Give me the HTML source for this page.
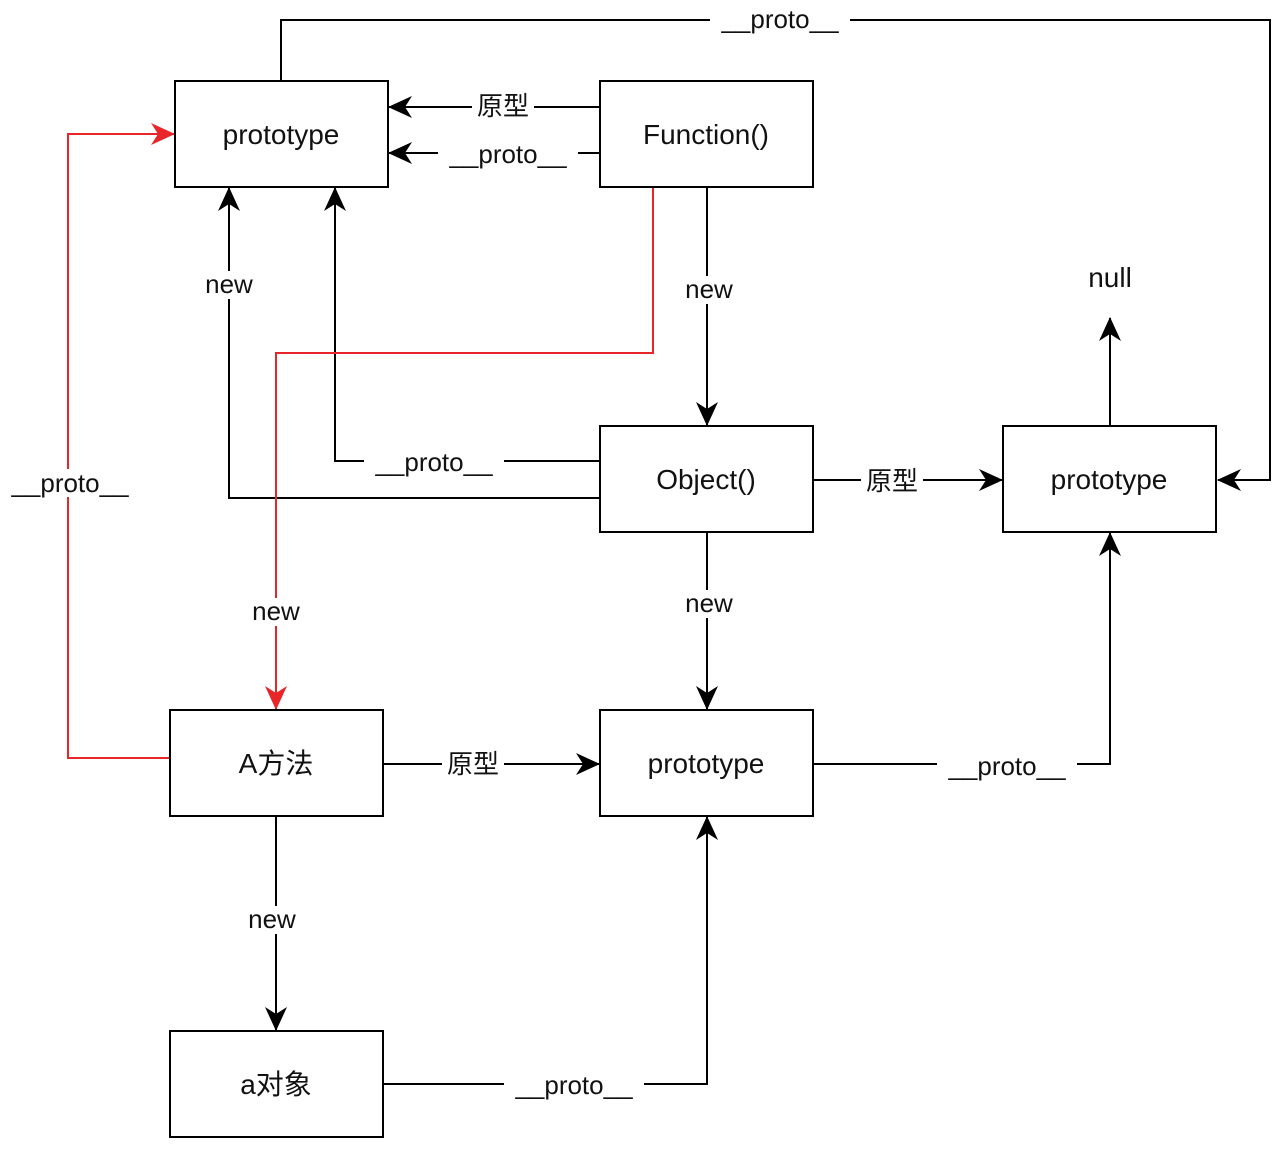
<!DOCTYPE html>
<html><head><meta charset="utf-8"><style>
html,body{margin:0;padding:0;background:#fff;}
svg{display:block;}
text{font-family:"Liberation Sans","Noto Sans CJK SC",sans-serif;fill:#111;}
</style></head><body>
<svg width="1280" height="1150" viewBox="0 0 1280 1150" xmlns="http://www.w3.org/2000/svg">
<defs>
<marker id="ab" markerWidth="24" markerHeight="22" refX="23" refY="11" orient="auto" markerUnits="userSpaceOnUse"><path d="M0,0 L24,11 L0,22 L7,11 z" fill="#000"/></marker>
<marker id="ar" markerWidth="24" markerHeight="22" refX="23" refY="11" orient="auto" markerUnits="userSpaceOnUse"><path d="M0,0 L24,11 L0,22 L7,11 z" fill="#e8262a"/></marker>
</defs>
<g fill="none" stroke="#000" stroke-width="2">
<polyline points="281,81 281,20 1270,20 1270,480 1218,480" marker-end="url(#ab)"/>
<line x1="600" y1="107" x2="389" y2="107" marker-end="url(#ab)"/>
<line x1="600" y1="153" x2="389" y2="153" marker-end="url(#ab)"/>
<line x1="707" y1="187" x2="707" y2="425" marker-end="url(#ab)"/>
<polyline points="600,498 229,498 229,188" marker-end="url(#ab)"/>
<polyline points="600,461 335,461 335,188" marker-end="url(#ab)"/>
<line x1="813" y1="480" x2="1002" y2="480" marker-end="url(#ab)"/>
<line x1="1110" y1="426" x2="1110" y2="318" marker-end="url(#ab)"/>
<line x1="707" y1="532" x2="707" y2="709" marker-end="url(#ab)"/>
<line x1="383" y1="764" x2="599" y2="764" marker-end="url(#ab)"/>
<polyline points="813,764 1110,764 1110,533" marker-end="url(#ab)"/>
<line x1="276" y1="816" x2="276" y2="1030" marker-end="url(#ab)"/>
<polyline points="383,1084 707,1084 707,817" marker-end="url(#ab)"/>
</g>
<g fill="none" stroke="#e8262a" stroke-width="2">
<polyline points="653,187 653,353 276,353 276,709" marker-end="url(#ar)"/>
<polyline points="170,758 68,758 68,134 174,134" marker-end="url(#ar)"/>
</g>
<g fill="#fff" stroke="#000" stroke-width="2">
<rect x="175" y="81" width="213" height="106"/>
<rect x="600" y="81" width="213" height="106"/>
<rect x="600" y="426" width="213" height="106"/>
<rect x="1003" y="426" width="213" height="106"/>
<rect x="170" y="710" width="213" height="106"/>
<rect x="600" y="710" width="213" height="106"/>
<rect x="170" y="1031" width="213" height="106"/>
</g>
<g font-size="28" text-anchor="middle">
<text x="281" y="144">prototype</text>
<text x="706" y="144">Function()</text>
<text x="706" y="489">Object()</text>
<text x="1109" y="489">prototype</text>
<text x="276" y="773">A方法</text>
<text x="706" y="773">prototype</text>
<text x="276" y="1094">a对象</text>
<text x="1110" y="287">null</text>
</g>
<g font-size="26" text-anchor="middle">
<rect x="710" y="6" width="140" height="28" fill="#fff"/><text x="780" y="28">__proto__</text>
<rect x="472" y="92" width="62" height="28" fill="#fff"/><text x="503" y="115">原型</text>
<rect x="438" y="140" width="140" height="28" fill="#fff"/><text x="508" y="163">__proto__</text>
<rect x="680" y="276" width="58" height="28" fill="#fff"/><text x="709" y="298">new</text>
<rect x="199" y="271" width="60" height="28" fill="#fff"/><text x="229" y="293">new</text>
<rect x="364" y="448" width="140" height="28" fill="#fff"/><text x="434" y="471">__proto__</text>
<rect x="0" y="469" width="140" height="28" fill="#fff"/><text x="70" y="492">__proto__</text>
<rect x="861" y="466" width="62" height="28" fill="#fff"/><text x="892" y="490">原型</text>
<rect x="680" y="590" width="58" height="28" fill="#fff"/><text x="709" y="612">new</text>
<rect x="246" y="598" width="60" height="28" fill="#fff"/><text x="276" y="620">new</text>
<rect x="442" y="750" width="62" height="28" fill="#fff"/><text x="473" y="773">原型</text>
<rect x="937" y="752" width="140" height="28" fill="#fff"/><text x="1007" y="775">__proto__</text>
<rect x="242" y="906" width="60" height="28" fill="#fff"/><text x="272" y="928">new</text>
<rect x="504" y="1071" width="140" height="28" fill="#fff"/><text x="574" y="1094">__proto__</text>
</g>
</svg>
</body></html>
